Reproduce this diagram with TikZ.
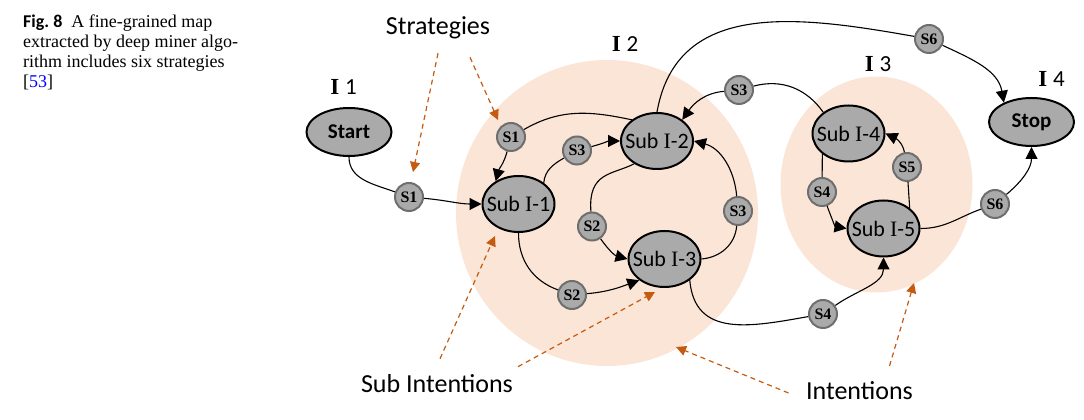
\documentclass[tikz,border=0pt]{standalone}
\usepackage{fontspec}
\setmainfont{Liberation Serif}
\newfontfamily\calibri{Carlito}
\usetikzlibrary{shapes.geometric,arrows.meta}

\definecolor{peach}{RGB}{251,229,214}
\definecolor{rust}{RGB}{197,90,17}
\definecolor{nodegray}{RGB}{170,170,170}
\definecolor{ringgray}{RGB}{110,110,110}

\newcommand{\subname}[1]{Sub {\rmfamily I}-#1}

\begin{document}
\begin{tikzpicture}[x=1pt,y=1pt,
	subint/.style={ellipse,draw,line width=2pt,fill=nodegray,minimum width=72pt,minimum height=56pt,inner xsep=-8pt,inner ysep=0pt,font=\calibri\fontsize{22}{25}\selectfont},
	endpoint/.style={ellipse,draw,line width=2pt,fill=nodegray,minimum width=85pt,minimum height=48pt,inner sep=0pt,font=\calibri\bfseries\fontsize{21}{24}\selectfont},
	strat/.style={circle,draw=ringgray,line width=2pt,fill=nodegray,minimum size=28pt,inner sep=0pt,font=\bfseries\fontsize{16}{18}\selectfont},
	link/.style={line width=1.1pt},
	flow/.style={line width=1.1pt,-{Triangle[length=12pt,width=12pt]}},
	hint/.style={rust,line width=1.2pt,dash pattern=on 5pt off 4pt,-{Triangle[length=10pt,width=10pt]}},
	callout/.style={anchor=base,inner sep=0pt,font=\calibri\fontsize{26}{30}\selectfont},
	intname/.style={anchor=base,inner sep=0pt,font=\fontsize{23}{26}\selectfont}]
	
	\useasboundingbox (0,0) rectangle (1084,420);
	
	% caption
	\node [anchor=north west,align=left,inner sep=0pt,font=\fontsize{18}{20}\selectfont] (caption) at (23,405)
	{{\calibri\bfseries Fig.~8}\hspace{9pt}A fine-grained map\\extracted by deep miner algo-\\rithm includes six strategies\\{[}\textcolor{blue}{53}{]}};
	
	% intentions
	\fill [peach] (607,207) ellipse [x radius=151, y radius=153];
	\fill [peach] (876.5,235.5) ellipse [x radius=96, y radius=108];
	\node [intname] (iOne) at (343.5,325) {\textbf{I} {\calibri 1}};
	\node [intname] (iTwo) at (625,368) {\textbf{I} {\calibri 2}};
	\node [intname] (iThree) at (878,348) {\textbf{I} {\calibri 3}};
	\node [intname] (iFour) at (1051.5,333) {\textbf{I} {\calibri 4}};
	
	% sub intentions
	\node [endpoint] (start) at (349,288) {Start};
	\node [endpoint] (stop) at (1031.5,298) {Stop};
	\node [subint] (sub1) at (518.5,216) {\subname{1}};
	\node [subint] (sub2) at (657,279) {\subname{2}};
	\node [subint] (sub3) at (664.5,161) {\subname{3}};
	\node [subint] (sub4) at (848.5,286.5) {\subname{4}};
	\node [subint] (sub5) at (883.5,191.5) {\subname{5}};
	
	% strategies
	\node [strat] (s1a) at (409,223) {S1};
	\node [strat] (s1b) at (511,283) {S1};
	\node [strat] (s3a) at (577,269.5) {S3};
	\node [strat] (s2a) at (592,193.5) {S2};
	\node [strat] (s2b) at (572,125) {S2};
	\node [strat] (s3b) at (738,209) {S3};
	\node [strat] (s3c) at (739,330) {S3};
	\node [strat] (s6a) at (929,381) {S6};
	\node [strat] (s4a) at (822,228) {S4};
	\node [strat] (s5) at (907,253) {S5};
	\node [strat] (s4b) at (823,106) {S4};
	\node [strat] (s6b) at (995,216) {S6};
	
	% map sections
	\draw [link] (start.south) to[out=-90,in=160] (s1a);
	\draw [flow] (s1a) to[out=-5,in=180] (sub1.west);
	\draw [link] (sub2.140) to[out=168,in=30] (s1b);
	\draw [flow] (s1b) to[out=-105,in=75] (sub1.135);
	\draw [link] (sub1.40) to[out=85,in=210] (s3a);
	\draw [flow] (s3a) to[out=15,in=180] (sub2.west);
	\draw [link] (sub2.225) .. controls (612,245) and (588,248) .. (s2a);
	\draw [flow] (s2a) to[out=-55,in=165] (sub3.west);
	\draw [link] (sub1.south) to[out=-90,in=160] (s2b);
	\draw [flow] (s2b) to[out=5,in=200] (sub3.220);
	\draw [link] (sub3.east) to[out=5,in=-95] (s3b);
	\draw [flow] (s3b) to[out=95,in=-15] (sub2.east);
	\draw [link] (sub4.140) to[out=125,in=15] (s3c);
	\draw [flow] (s3c) to[out=185,in=55] (sub2.40);
	\draw [link] (sub2.north) to[out=80,in=170,looseness=1.1] (s6a);
	\draw [flow] (s6a) to[out=-25,in=100] (stop.145);
	\draw [link] (sub3.-40) to[out=-85,in=190,looseness=1.2] (s4b);
	\draw [flow] (s4b) to[out=35,in=-90] (sub5.south);
	\draw [link] (sub4.south west) -- (s4a);
	\draw [flow] (s4a) to[out=-70,in=170] (sub5.west);
	\draw [link] (sub5.north east) -- (s5);
	\draw [flow] (s5) to[out=100,in=-25] (sub4.east);
	\draw [link] (sub5.east) to[out=0,in=200] (s6b);
	\draw [flow] (s6b) to[out=40,in=-90] (stop.south);
	
	% additional information
	\node [callout] (strategies) at (438,385.7) {Strategies};
	\node [callout] (subints) at (437,27.3) {Sub Intentions};
	\node [callout] (intents) at (859.5,20) {Intentions};
	\coordinate (tipStrA) at (413,248);
	\coordinate (tipStrB) at (498,300);
	\coordinate (tipSubA) at (495,184);
	\coordinate (tipSubB) at (655,128);
	\coordinate (tipIntA) at (676,73);
	\coordinate (tipIntB) at (914,137);
	\draw [hint] ([yshift=-19pt]strategies.base) -- (tipStrA);
	\draw [hint] ([xshift=32pt,yshift=-23pt]strategies.base) -- (tipStrB);
	\draw [hint] ([xshift=3pt,yshift=34pt]subints.base) -- (tipSubA);
	\draw [hint] ([xshift=81pt,yshift=26pt]subints.base) -- (tipSubB);
	\draw [hint] ([xshift=-71pt,yshift=7pt]intents.base) -- (tipIntA);
	\draw [hint] ([xshift=30pt,yshift=34pt]intents.base) -- (tipIntB);
	
\end{tikzpicture}
\end{document}
